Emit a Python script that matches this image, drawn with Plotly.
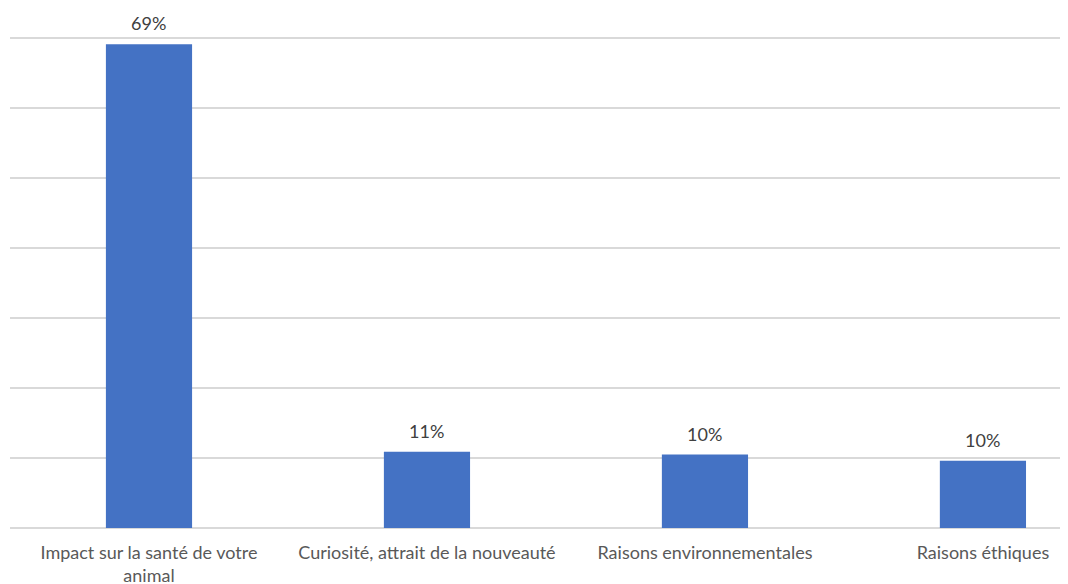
import plotly.graph_objects as go

categories = ["Impact sur la santé de votre<br>animal", "Curiosité, attrait de la nouveauté",
              "Raisons environnementales", "Raisons éthiques"]
values = [0.691, 0.109, 0.105, 0.096]
labels = ["69%", "11%", "10%", "10%"]

fig = go.Figure(go.Bar(
    x=categories, y=values,
    marker=dict(color="#4472C4", line=dict(width=0)),
    width=0.31,
))
for c, v, t in zip(categories, values, labels):
    fig.add_annotation(x=c, y=v, text=t, showarrow=False, yanchor="bottom", yshift=8,
                       font=dict(size=18, color="#404040", family="Lato"))

fig.update_layout(
    width=1060, height=576,
    margin=dict(l=2, r=0, t=16, b=56),
    paper_bgcolor="white", plot_bgcolor="white",
    showlegend=False,
    font=dict(family="Lato", size=18, color="#595959"),
    xaxis=dict(range=[-0.5, 3.306], showgrid=False, showline=False, zeroline=False,
               automargin=False,
               ticks="outside", ticklen=8, tickcolor="rgba(0,0,0,0)",
               tickfont=dict(size=18, color="#595959", family="Lato")),
    yaxis=dict(range=[0, 0.72], dtick=0.1, showgrid=True, gridcolor="#d9d9d9", gridwidth=1.5,
               showticklabels=False, zeroline=True, zerolinecolor="#d9d9d9", zerolinewidth=1.5,
               showline=False, automargin=False),
)
fig.write_html("out.html")
